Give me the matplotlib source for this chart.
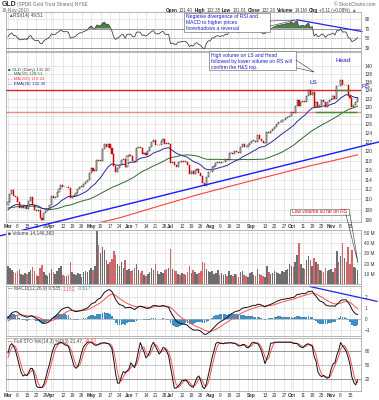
import numpy as np
import pandas as pd
import matplotlib
matplotlib.use("Agg")
import matplotlib.pyplot as plt
from matplotlib.patches import Rectangle

plt.rcParams['font.family'] = ['Liberation Sans', 'DejaVu Sans']

# trading days (lead-in from mid Dec 2009 for the indicators)
holidays = ['2009-12-25', '2010-01-01', '2010-01-18', '2010-02-15',
            '2010-04-02', '2010-05-31', '2010-07-05', '2010-09-06']
days = pd.bdate_range('2009-12-14', '2010-11-19')
days = days[~days.isin(pd.to_datetime(holidays))]

# closes before the chart window (Dec 14 2009 - Feb 26 2010)
lead_close = [110.4, 109.0, 110.3, 108.2, 108.8,
              106.9, 107.0, 107.8, 107.9,
              108.9, 107.9, 107.6, 107.3,
              109.8, 109.7, 111.5, 110.8, 111.4,
              112.9, 110.5, 111.5, 112.0, 110.5,
              111.3, 108.9, 107.4, 107.2,
              107.9, 107.5, 106.1, 106.6, 105.96,
              107.8, 109.1, 108.1, 104.7, 104.0,
              104.0, 105.6, 105.2, 107.7, 107.0,
              109.6, 109.8, 109.4, 108.4,
              108.1, 107.0, 107.8, 107.2, 108.9]

# GLD daily closes, Mar 1 - Nov 19 2010
close = [
    # Mar
    109.4, 111.0, 111.9, 110.6, 110.5, 109.5, 108.3, 108.3, 108.4, 108.7,
    108.2, 109.6, 110.4, 108.9, 108.0, 107.8, 108.0, 106.4, 106.0, 107.3,
    107.8, 108.2, 108.95,
    # Apr
    110.6, 110.2, 110.4, 111.4, 112.0, 113.0, 112.5, 112.4, 112.6, 112.3,
    110.3, 110.6, 110.8, 111.2, 112.0, 112.6, 112.6, 113.2, 113.5, 114.0,
    115.4,
    # May
    116.4, 115.8, 115.8, 118.2, 118.0, 118.0, 120.6, 121.7, 121.0, 121.6,
    120.8, 119.4, 116.8, 115.6, 116.4, 117.0, 118.2, 118.3, 116.6, 118.9,
    # Jun
    119.1, 118.9, 117.9, 117.8, 120.7, 120.9, 120.8, 119.4, 119.7, 119.2,
    120.0, 120.9, 122.0, 122.5, 121.3, 121.3, 121.3, 122.2, 122.7, 121.7,
    121.6, 121.7,
    # Jul
    117.4, 117.6, 117.0, 116.7, 117.7, 117.6, 117.9, 117.8, 117.8, 117.1,
    115.2, 115.7, 115.1, 116.0, 116.2, 115.4, 114.7, 113.3, 112.8, 114.5,
    115.5,
    # Aug
    115.5, 116.7, 116.8, 117.4, 117.7, 117.4, 117.6, 117.6, 118.3, 118.1,
    119.6, 119.7, 119.4, 120.1, 119.8, 119.6, 120.9, 121.6, 121.0, 120.9,
    121.4, 121.8,
    # Sep
    122.3, 122.3, 122.1, 123.5, 122.8, 122.2, 121.8, 121.9, 124.2, 124.0,
    124.5, 124.9, 125.5, 126.0, 126.5, 126.6, 126.9, 126.9, 127.4, 127.7,
    127.9,
    # Oct
    128.9, 128.5, 130.2, 131.6, 130.2, 131.1, 131.4, 131.1, 132.6, 134.1,
    132.8, 133.7, 130.0, 131.3, 129.9, 130.4, 131.6, 131.3, 129.9, 131.3,
    131.7,
    # Nov
    132.0, 132.7, 131.8, 135.1, 135.0, 136.6, 135.2, 135.4, 135.2, 132.7,
    132.1, 130.0, 130.5, 131.1, 132.2]

# volume in millions of shares
volume = [
    18, 16, 14, 12, 11, 13, 15, 10, 9, 11, 10, 12, 14, 17, 13, 9, 8, 16, 19, 12,
    9, 8, 11,
    15, 12, 10, 13, 16, 18, 9, 8, 8, 9, 22, 12, 10, 9, 11, 10, 7, 12, 13, 12,
    14,
    16, 14, 18, 52, 38, 30, 36, 33, 24, 20, 22, 25, 32, 28, 20, 18, 22, 16, 24,
    14,
    15, 13, 14, 16, 20, 14, 11, 13, 9, 8, 10, 12, 16, 14, 20, 13, 10, 12, 11,
    14, 15, 16,
    34, 15, 14, 13, 10, 9, 11, 10, 9, 12, 18, 11, 14, 12, 10, 11, 13, 22, 21,
    15, 13,
    12, 13, 10, 11, 14, 9, 11, 9, 10, 8, 13, 9, 8, 10, 9, 7, 12, 13, 9, 8, 7,
    11,
    12, 9, 8, 15, 10, 9, 8, 7, 18, 12, 10, 11, 13, 12, 11, 10, 13, 12, 14, 15,
    20,
    18, 17, 22, 28, 40, 20, 16, 15, 24, 27, 24, 18, 26, 22, 20, 14, 13, 12, 16,
    13, 14,
    15, 12, 16, 32, 22, 27, 40, 26, 22, 36, 20, 33, 17, 16, 14.1]

# MA(200) (day index, value)
ma200_idx = [0, 20, 40, 50, 60, 70, 80, 90, 100, 110, 120, 130, 140, 150,
             160, 170, 185]
ma200_val = [102.0, 103.6, 105.0, 105.6, 106.5, 107.6, 108.7, 109.8, 110.9,
             111.9, 112.9, 113.9, 114.9, 115.9, 116.9, 117.8, 119.24]

tick_dates = ['2010-03-01', '2010-03-08', '2010-03-15', '2010-03-22',
              '2010-03-29', '2010-04-01', '2010-04-12', '2010-04-19',
              '2010-04-26', '2010-05-03', '2010-05-10', '2010-05-17',
              '2010-05-24', '2010-06-01', '2010-06-07', '2010-06-14',
              '2010-06-21', '2010-06-28', '2010-07-01', '2010-07-12',
              '2010-07-19', '2010-07-26', '2010-08-02', '2010-08-09',
              '2010-08-16', '2010-08-23', '2010-09-01', '2010-09-13',
              '2010-09-20', '2010-09-27', '2010-10-01', '2010-10-11',
              '2010-10-18', '2010-10-25', '2010-11-01', '2010-11-08',
              '2010-11-15']
tick_labels = ['Mar', '8', '15', '22', '29', 'Apr', '12', '19', '26', 'May',
               '10', '17', '24', 'Jun', '7', '14', '21', '28', 'Jul', '12',
               '19', '26', 'Aug', '9', '16', '23', 'Sep', '13', '20', '27',
               'Oct', '11', '18', '25', 'Nov', '8', '15']

# hand drawn lines (day index, value)
price_trend_x = [-4.2, 196.3]
price_trend_y = [103.0, 122.05]
rsi_trend_x = [152.9, 187.3]
rsi_trend_y = [88.0, 64.0]
macd_trend_x = [159.8, 195.2]
macd_trend_y = [3.0, 1.64]
resist_level = 134.0
support_level = 128.8
neck_x = [163, 184]
head_base_x = [175, 181]

# ---- indicators ----
n0 = len(lead_close)
c_all = pd.Series(lead_close + close)
ema20 = c_all.ewm(span=20, adjust=False).mean().values[n0:]
ma50 = c_all.rolling(50).mean().values[n0:]
delta = c_all.diff()
up = delta.clip(lower=0).ewm(alpha=1/14, adjust=False).mean()
dn = (-delta.clip(upper=0)).ewm(alpha=1/14, adjust=False).mean()
rsi = (100 - 100 / (1 + up / dn)).values[n0:]
macd_s = c_all.ewm(span=12, adjust=False).mean() - c_all.ewm(span=26, adjust=False).mean()
sig_s = macd_s.ewm(span=9, adjust=False).mean()
macd = macd_s.values[n0:]
sig = sig_s.values[n0:]
hist = macd - sig
hh = c_all.rolling(14).max()
ll = c_all.rolling(14).min()
fast_k = 100 * (c_all - ll) / (hh - ll)
slow_k = fast_k.rolling(3).mean()
slow_d = slow_k.rolling(3).mean()
sto_k = slow_k.values[n0:]
sto_d = slow_d.values[n0:]

c = np.array(close)
o = np.array(([lead_close[-1]] + close)[:-1])
x = np.arange(len(c))
pos = {d: i for i, d in enumerate(days[n0:])}
tick_x = [pos[pd.Timestamp(d)] for d in tick_dates]
week_x = [i for i in range(1, len(x)) if days[n0 + i].weekday() < days[n0 + i - 1].weekday()]
grid_x = sorted(set(week_x + tick_x + [0]))

# ---- figure ----
W, H = 379, 400
fig = plt.figure(figsize=(W / 100, H / 100), dpi=100)
fig.patch.set_facecolor('white')
xl = (-1.06, 186.8)
grid_c = '#dedede'
lab_c = '#333333'
fs = 3.4


def panel(top, bottom):
    ax = fig.add_axes([6 / W, 1 - bottom / H, 355 / W, (bottom - top) / H])
    ax.set_xlim(*xl)
    for s in ax.spines.values():
        s.set_color('#9a9a9a')
        s.set_linewidth(0.5)
    ax.yaxis.tick_right()
    ax.tick_params(axis='y', length=0, labelsize=fs, labelcolor=lab_c, pad=2.5)
    ax.tick_params(axis='x', length=0, labelsize=fs, labelcolor=lab_c, pad=1)
    ax.set_xticks(grid_x)
    ax.set_xticklabels([])
    ax.grid(True, axis='x', color=grid_c, lw=0.5)
    ax.grid(True, axis='y', color=grid_c, lw=0.5)
    ax.set_axisbelow(True)
    return ax


def date_labels(ax):
    ax2 = ax.secondary_xaxis('bottom')
    ax2.set_xticks(tick_x)
    ax2.set_xticklabels(tick_labels)
    ax2.tick_params(length=0, labelsize=fs, labelcolor=lab_c, pad=1.2)
    for t in ax2.get_xticklabels():
        if t.get_text().isalpha():
            t.set_fontweight('bold')
    ax2.spines['bottom'].set_visible(False)


ax_r = panel(12, 51)
ax_p = panel(52, 222)
ax_v = panel(230, 284)
ax_m = panel(286, 336)
ax_s = panel(338, 391)

# RSI
ax_r.set_ylim(24, 104)
ax_r.set_yticks([30, 50, 70, 90])
ax_r.axhline(70, color='#888888', lw=0.6)
ax_r.axhline(30, color='#888888', lw=0.6)
ax_r.axhline(50, color='#999999', lw=0.5, ls=(0, (2, 1.5)))
ax_r.plot(x, rsi, color='#444444', lw=0.6)
ax_r.fill_between(x, 70, rsi, where=rsi > 70, color='#4e7e4e', interpolate=True, lw=0)
ax_r.fill_between(x, 30, rsi, where=rsi < 30, color='#cc3333', interpolate=True, lw=0)
ax_r.plot(rsi_trend_x, rsi_trend_y, color='#2222ee', lw=0.9, clip_on=False)

# price
ax_p.set_yscale('log')
ax_p.set_ylim(105.6, 143.6)
pt = list(range(106, 142, 2))
ax_p.set_yticks(pt)
ax_p.set_yticklabels([str(v) for v in pt])
ax_p.yaxis.set_minor_locator(matplotlib.ticker.NullLocator())
date_labels(ax_p)
ax_p.axhline(resist_level, color='#e02020', lw=1.0)
ax_p.axhline(support_level, color='#f08888', lw=1.0)
ax_p.plot(ma200_idx, ma200_val, color='#ff4040', lw=0.8)
ax_p.plot(x, ma50, color='#2f6b2f', lw=0.7)
ax_p.plot(x, ema20, color='#2a2a9a', lw=0.7)
down = c < o
lo = np.minimum(o, c)
ht = np.maximum(np.abs(c - o), 0.12)
ax_p.bar(x[~down], ht[~down], bottom=lo[~down], width=0.6, color='white',
         edgecolor='#111111', lw=0.35, zorder=3)
ax_p.bar(x[down], ht[down], bottom=lo[down], width=0.6, color='#e00000',
         edgecolor='#c00000', lw=0.35, zorder=3)
ax_p.plot(neck_x, [support_level] * 2, color='#3f8f2f', lw=1.0, zorder=4)
ax_p.plot(head_base_x, [resist_level] * 2, color='#3f8f2f', lw=1.0, zorder=4)
ax_p.plot(price_trend_x, price_trend_y, color='#1a1aff', lw=1.0, clip_on=False, zorder=5)

# volume
ax_v.set_ylim(0, 53)
ax_v.set_yticks([10, 20, 30, 40, 50])
ax_v.set_yticklabels(['10 M', '20 M', '30 M', '40 M', '50 M'])
v = np.array(volume)
ax_v.bar(x[~down], v[~down], width=0.8, color='#6e6e6e', lw=0)
ax_v.bar(x[down], v[down], width=0.8, color='#cf6a6a', lw=0)

# MACD
ax_m.set_ylim(-1.55, 3.05)
ax_m.set_yticks([-1, 0, 1, 2])
ax_m.bar(x, hist, width=0.9, color='#3d8fc4', lw=0)
ax_m.axhline(0, color='#aaaaaa', lw=0.4)
ax_m.plot(x, sig, color='#ff5050', lw=0.7)
ax_m.plot(x, macd, color='#111111', lw=0.7)
ax_m.plot(macd_trend_x, macd_trend_y, color='#2222ee', lw=0.9, clip_on=False)

# Full stochastics
ax_s.set_ylim(-5, 109)
ax_s.set_yticks([20, 50, 80])
ax_s.axhline(80, color='#888888', lw=0.6)
ax_s.axhline(20, color='#888888', lw=0.6)
ax_s.axhline(50, color='#999999', lw=0.5, ls=(0, (2, 1.5)))
ax_s.plot(x, sto_d, color='#ff5050', lw=0.7)
ax_s.plot(x, sto_k, color='#111111', lw=0.7)
date_labels(ax_s)

# ---- header, labels and call-out boxes in pixel coordinates ----
ov = fig.add_axes([0, 0, 1, 1], zorder=10)
ov.set_xlim(0, W)
ov.set_ylim(H, 0)
ov.axis('off')
rend = fig.canvas.get_renderer()


def seq_text(x0, y0, pieces, size=fs, gap=1.2):
    xx = x0
    for t, col, bold in pieces:
        tt = ov.text(xx, y0, t, fontsize=size, color=col, va='center',
                     fontweight='bold' if bold else 'normal')
        xx += tt.get_window_extent(rend).width + gap


g1, g2 = '#444444', '#666666'
seq_text(2, 4.5, [('GLD', '#333333', True)], size=5.0)
seq_text(17, 4.7, [('(SPDR Gold Trust Shares) NYSE', g2, False)])
ov.text(2, 10.5, '19-Nov-2010', fontsize=fs, color=g2, va='center')
ov.text(376, 4.5, '\u00a9 StockCharts.com', fontsize=fs, color=g2, va='center', ha='right')
seq_text(166, 10.5, [('Open', '#222222', True), ('131.40', g1, False),
                     ('High', '#222222', True), ('132.35', g1, False),
                     ('Low', '#222222', True), ('131.01', g1, False),
                     ('Close', '#222222', True), ('132.20', g1, False),
                     ('Volume', '#222222', True), ('14.1M', g1, False),
                     ('Chg', '#222222', True), ('+0.11 (+0.08%)', g1, False),
                     ('\u25b2', '#2a8a2a', False)], size=3.35, gap=1.3)

seq_text(8, 15.5, [('\u25b2', '#3a6a3a', False), ('RSI(14) 49.51', g1, False)], gap=0.6)
leg = [('\u25a0 GLD (Daily) 132.20', g1), ('\u2014 MA(50) 128.51', '#2f6b2f'),
       ('\u2014 MA(200) 119.24', '#ff4040'), ('\u2014 EMA(20) 132.30', '#2a2a9a')]
for k, (t, col) in enumerate(leg):
    ov.text(8, 69.5 + k * 4.8, t, color=col, fontsize=fs - 0.2, va='center')
seq_text(8, 232.5, [('\u25a0 Volume 14,146,383', g1, False)])
seq_text(8, 288.5, [('\u2014 MACD(12,26,9) 0.535,', g1, False), ('1.152,', '#ff5050', False),
                    ('-0.617', '#3d8fc4', False)])
seq_text(8, 341, [('\u2014 Full STO %K(14,3) %D(3) 21.47,', g1, False),
                  ('29.53', '#ff5050', False)])

blue_t = '#1c1ccc'
ov.add_patch(Rectangle((184, 13), 86, 19, facecolor='white', edgecolor='#777777', lw=0.5))
for k, t in enumerate(['Negative divergence of RSI and', 'MACD to higher prices',
                       'foreshadows a reversal']):
    ov.text(186, 16.5 + k * 6, t, fontsize=3.6, color=blue_t, va='center')
ov.plot([270, 296, 270], [21, 20, 26], color='#333333', lw=0.4)

ov.add_patch(Rectangle((209, 51), 87, 19, facecolor='white', edgecolor='#777777', lw=0.5))
for k, t in enumerate(['High volume on LS and Head', 'followed by lower volume on RS will',
                       'confirm the H&S top.']):
    ov.text(211, 55 + k * 6, t, fontsize=3.6, color=blue_t, va='center')
ov.plot([296, 314, 297], [60, 72, 68], color='#333333', lw=0.4)

ov.text(309, 82, 'LS', fontsize=4.6, color=blue_t, va='center')
ov.text(335, 61, 'Head', fontsize=4.6, color=blue_t, va='center')
ov.text(362, 87, 'RS', fontsize=4.6, color=blue_t, va='center')

ov.add_patch(Rectangle((290, 208.5), 59, 6, facecolor='white', edgecolor='#777777', lw=0.5))
ov.text(292, 211.5, 'Low volume so far on RS', fontsize=3.5, color='#dd0000', va='center')
ov.plot([346, 358, 350], [214.5, 263, 214.5], color='#333333', lw=0.4)

fig.savefig('out.png', dpi=100, facecolor='white')
